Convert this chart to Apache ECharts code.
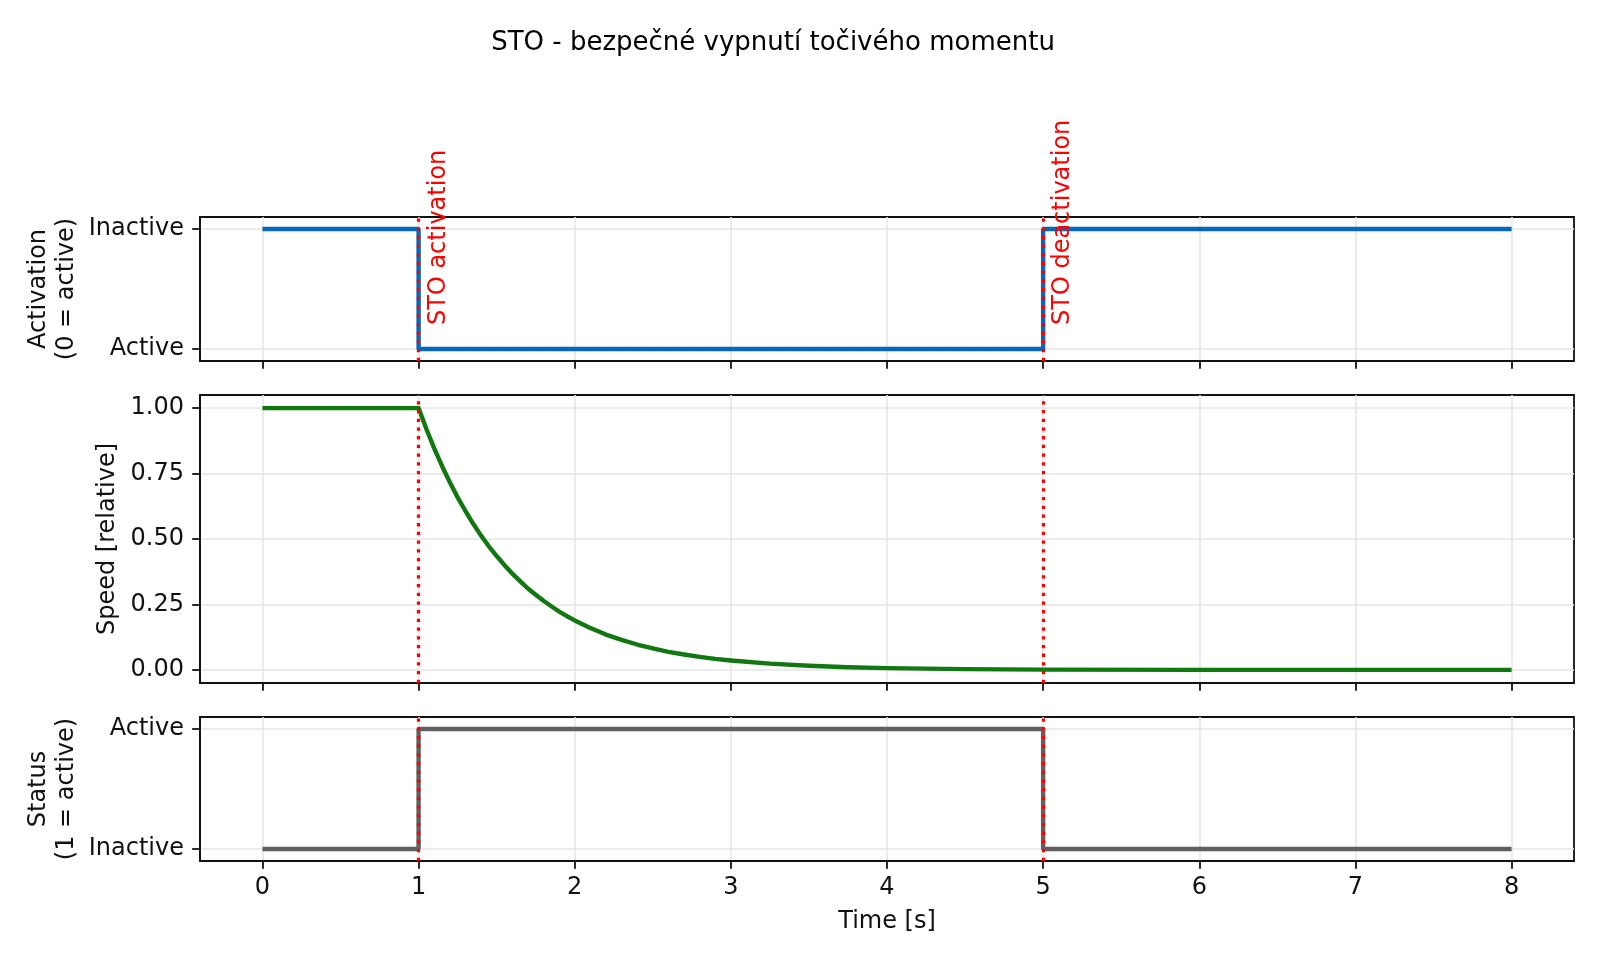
<!DOCTYPE html>
<html>
<head>
<meta charset="utf-8">
<script src="https://cdn.jsdelivr.net/npm/echarts@6/dist/echarts.min.js"></script>
<style>html,body{margin:0;padding:0;background:#fff}#c{width:1600px;height:960px}</style>
</head>
<body>
<div id="c"></div>
<script>
// ---- data ----
const titleText = 'STO - bezpečné vypnutí točivého momentu';
const xTicks = [0, 1, 2, 3, 4, 5, 6, 7, 8];
const speedTicks = [0, 0.25, 0.5, 0.75, 1];
const stateTicks = [0, 1];
const activationLabels = ['Active', 'Inactive'];   // value 0, 1
const statusLabels = ['Inactive', 'Active'];       // value 0, 1
const actTime = [0, 1, 5, 8];
const actValue = [1, 0, 1, 1];
const statusTime = [0, 1, 5, 8];
const statusValue = [0, 1, 0, 0];
const speedTime = [0, 1, 1.05, 1.1, 1.15, 1.2, 1.25, 1.3, 1.35, 1.4, 1.45, 1.5, 1.55, 1.6, 1.65, 1.7, 1.75, 1.8, 1.85, 1.9, 1.95, 2.0,
  2.1, 2.2, 2.3, 2.4, 2.5, 2.6, 2.7, 2.8, 2.9, 3.0, 3.25, 3.5, 3.75, 4.0, 4.5, 5.0, 6.0, 7.0, 8.0];
const speedValue = [1, 1, 0.920, 0.846, 0.779, 0.717, 0.659, 0.607, 0.558, 0.513, 0.472, 0.435, 0.400, 0.368, 0.339, 0.311, 0.287, 0.264, 0.243, 0.223, 0.205, 0.189,
  0.160, 0.135, 0.115, 0.097, 0.082, 0.069, 0.059, 0.050, 0.042, 0.036, 0.024, 0.016, 0.010, 0.007, 0.003, 0.001, 0.0002, 0, 0];
const eventTimes = [1, 5];
const eventLabels = ['STO activation', 'STO deactivation'];

// ---- styles ----
const FONT = 'DejaVu Sans';
const FS = 24;
const BLUE = '#0666b8', GREEN = '#117811', GRAY = '#606060';
const pairs = (xs, ys) => xs.map((x, i) => [x, ys[i]]);

const grids = [
  {left: 200, right: 26, top: 217, height: 144},
  {left: 200, right: 26, top: 395, height: 288},
  {left: 200, right: 26, top: 717, height: 144}
].map(g => Object.assign(g, {show: true, borderColor: '#111', borderWidth: 1.8, backgroundColor: 'transparent'}));

const tickStyle = {color: '#111', width: 1.8};
function xAxis(i) {
  return {
    type: 'value', gridIndex: i, min: -0.4, max: 8.4,
    axisLine: {show: true, onZero: false, lineStyle: tickStyle},
    axisTick: {show: true, customValues: xTicks, length: 7.8, lineStyle: tickStyle},
    axisLabel: {show: i === 2, customValues: xTicks, margin: 15, color: '#111', fontSize: FS, fontFamily: FONT},
    splitLine: {show: true, lineStyle: {color: '#e6e6e6', width: 1.6}},
    name: i === 2 ? 'Time [s]' : '', nameLocation: 'middle', nameGap: 49,
    nameTextStyle: {color: '#111', fontSize: FS, fontFamily: FONT}
  };
}
function yAxis(i, ticks, fmt, opts) {
  return Object.assign({
    type: 'value', gridIndex: i,
    axisLine: {show: true, onZero: false, lineStyle: tickStyle},
    axisTick: {show: true, customValues: ticks, length: 7.8, lineStyle: tickStyle},
    axisLabel: {customValues: ticks, margin: 16, color: '#111', fontSize: FS, fontFamily: FONT, formatter: fmt},
    splitLine: {show: true, lineStyle: {color: '#e6e6e6', width: 1.6}},
    nameLocation: 'middle', nameRotate: 90, nameMoveOverlap: false,
    nameTextStyle: {color: '#111', fontSize: FS, fontFamily: FONT, lineHeight: 28}
  }, opts);
}

const yAxes = [
  yAxis(0, stateTicks, v => activationLabels[Math.round(v)], {min: -0.1, max: 1.1, name: 'Activation\n(0 = active)', nameGap: 119}),
  yAxis(1, speedTicks, v => v.toFixed(2), {min: -0.05, max: 1.05, name: 'Speed [relative]', nameGap: 78}),
  yAxis(2, stateTicks, v => statusLabels[Math.round(v)], {min: -0.1, max: 1.1, name: 'Status\n(1 = active)', nameGap: 119})
];

const speedPts = pairs(speedTime, speedValue);

const lineBase = {type: 'line', showSymbol: false, symbol: 'none', silent: true, animation: false};
const series = [
  Object.assign({}, lineBase, {xAxisIndex: 0, yAxisIndex: 0, step: 'end', data: pairs(actTime, actValue), lineStyle: {color: BLUE, width: 4.4}}),
  Object.assign({}, lineBase, {xAxisIndex: 1, yAxisIndex: 1, data: speedPts, lineStyle: {color: GREEN, width: 4.4, join: 'round'}}),
  Object.assign({}, lineBase, {xAxisIndex: 2, yAxisIndex: 2, step: 'end', data: pairs(statusTime, statusValue), lineStyle: {color: GRAY, width: 4.4}})
];
[0, 1, 2].forEach(i => {
  series.push(Object.assign({}, lineBase, {
    xAxisIndex: i, yAxisIndex: i, data: [], z: 10,
    markLine: {silent: true, symbol: ['none', 'none'], animation: false, label: {show: false},
      lineStyle: {color: '#ff0000', width: 3.3, type: [3.3, 5.4]},
      data: eventTimes.map(t => ({xAxis: t}))}
  }));
});
series.push({
  type: 'custom', xAxisIndex: 0, yAxisIndex: 0, z: 11, silent: true, animation: false, clip: false,
  data: eventTimes.map(t => [t + 0.05, 0.2]),
  renderItem: (params, api) => {
    const p = api.coord([api.value(0), api.value(1)]);
    return {type: 'text', x: p[0], y: p[1], rotation: Math.PI / 2,
      style: {text: eventLabels[params.dataIndex], fill: '#ff0000', fontSize: FS, fontFamily: FONT, align: 'left', verticalAlign: 'top'}};
  }
});

const chart = echarts.init(document.getElementById('c'));
chart.setOption({
  animation: false,
  title: {text: titleText, left: 768, top: 25, textAlign: 'center',
    textStyle: {color: '#000', fontWeight: 'normal', fontSize: 26, fontFamily: 'DejaVu Sans'}},
  grid: grids,
  xAxis: [0, 1, 2].map(xAxis),
  yAxis: yAxes,
  series: series
});
</script>
</body>
</html>
